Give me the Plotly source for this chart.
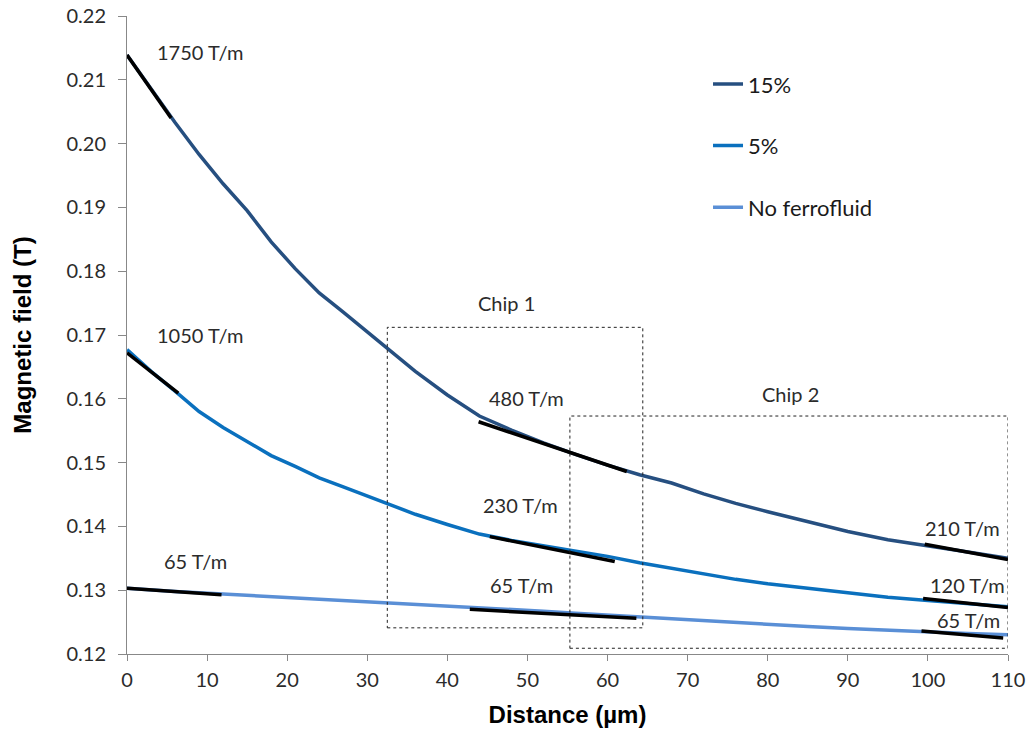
import plotly.graph_objects as go

# ---------------- data ----------------
distance_um = [0, 3, 6, 9, 12, 15, 18, 21, 24, 27, 30, 33, 36, 40, 44, 48, 52, 56,
               60, 64, 68, 72, 76, 80, 85, 90, 95, 100, 105, 110]

field_15pct = [0.2139, 0.2086, 0.2033, 0.1983, 0.1937, 0.1895, 0.1846, 0.1804, 0.1766,
               0.1736, 0.1705, 0.1673, 0.1643, 0.1606, 0.1573, 0.1551, 0.1531, 0.1513,
               0.1496, 0.1481, 0.1468, 0.1451, 0.1436, 0.1423, 0.1407, 0.1392, 0.1379,
               0.1370, 0.1360, 0.1350]

field_5pct = [0.1677, 0.1643, 0.1612, 0.1580, 0.1555, 0.1533, 0.1511, 0.1494, 0.1476,
              0.1462, 0.1448, 0.1433, 0.1419, 0.1403, 0.1388, 0.1378, 0.1370, 0.1362,
              0.1353, 0.1343, 0.1334, 0.1326, 0.1317, 0.1310, 0.1303, 0.1295, 0.1289,
              0.1284, 0.1279, 0.1274]

field_none = [0.1303, 0.1300, 0.1298, 0.1296, 0.1294, 0.1292, 0.1290, 0.1288, 0.1286,
              0.1285, 0.1283, 0.1281, 0.1279, 0.1276, 0.1273, 0.1270, 0.1267, 0.1264,
              0.1261, 0.1258, 0.1255, 0.1252, 0.1249, 0.1246, 0.1243, 0.1240, 0.1237,
              0.1235, 0.1232, 0.1230]

series_names = ["15%", "5%", "No ferrofluid"]

# tangent (gradient) segments: start/end distance and field
tangent_x0 = [0.0, 43.9, 99.6, 0.0, 45.3, 99.4, 0.0, 42.8, 99.2]
tangent_x1 = [5.5, 62.4, 110.0, 6.4, 60.9, 110.0, 11.8, 63.6, 109.4]
tangent_y0 = [0.2139, 0.1564, 0.1372, 0.1672, 0.1384, 0.1287, 0.1303, 0.1270, 0.1236]
tangent_y1 = [0.2040, 0.1486, 0.1348, 0.1609, 0.1345, 0.1273, 0.1293, 0.1256, 0.1225]

gradient_labels = ["1750 T/m", "480 T/m", "210 T/m", "1050 T/m", "230 T/m", "120 T/m",
                   "65 T/m", "65 T/m", "65 T/m"]

# chip regions (distance range, field range)
chip_names = ["Chip 1", "Chip 2"]
chip_x0 = [32.5, 55.3]
chip_x1 = [64.4, 110.0]
chip_y0 = [0.1241, 0.1209]
chip_y1 = [0.1712, 0.1573]

x_ticks = list(range(0, 111, 10))
y_ticks = [0.12, 0.13, 0.14, 0.15, 0.16, 0.17, 0.18, 0.19, 0.20, 0.21, 0.22]

# ---------------- styling ----------------
colors = ["#264F80", "#0A70BE", "#5A8FD6"]
label_font = dict(family="Lato, 'Open Sans', sans-serif", size=20, color="#2b2b2b")
title_font = dict(family="'Liberation Sans', Arial, sans-serif", size=24, color="black")
axis_color = "#888888"

fig = go.Figure()

for i, (name, ys) in enumerate(zip(series_names, [field_15pct, field_5pct, field_none])):
    fig.add_trace(go.Scatter(
        x=distance_um, y=ys, name=name, mode="lines",
        line=dict(color=colors[i], width=3.5),
        legendgroup=name,
    ))

for x0, x1, y0, y1 in zip(tangent_x0, tangent_x1, tangent_y0, tangent_y1):
    fig.add_trace(go.Scatter(
        x=[x0, x1], y=[y0, y1], mode="lines",
        line=dict(color="black", width=3.5),
        showlegend=False, hoverinfo="skip",
    ))

# chip boxes
for x0, x1, y0, y1 in zip(chip_x0, chip_x1, chip_y0, chip_y1):
    fig.add_shape(type="rect", xref="x", yref="y", x0=x0, x1=x1, y0=y0, y1=y1,
                  line=dict(color="#222222", width=1, dash="3px,3px"))

# gradient label placement
label_pos = [
    (9.1, 0.2144, "center"),
    (49.9, 0.1601, "center"),
    (109.25, 0.1397, "right"),
    (9.1, 0.1700, "center"),
    (49.1, 0.1433, "center"),
    (109.85, 0.1308, "right"),
    (8.5, 0.1345, "center"),
    (49.2, 0.1308, "center"),
    (109.3, 0.1253, "right"),
]
for text, (lx, ly, al) in zip(gradient_labels, label_pos):
    fig.add_annotation(x=lx, y=ly, xref="x", yref="y", text=text, showarrow=False,
                       xanchor=al, yanchor="middle", font=label_font)

chip_label_pos = [(47.4, 0.1750), (82.9, 0.1607)]
for name, (lx, ly) in zip(chip_names, chip_label_pos):
    fig.add_annotation(x=lx, y=ly, xref="x", yref="y", text=name, showarrow=False,
                       xanchor="center", yanchor="middle", font=label_font)

fig.update_layout(
    width=1029, height=749,
    margin=dict(l=127, r=21, t=16, b=95),
    paper_bgcolor="white", plot_bgcolor="white",
    showlegend=True,
    legend=dict(x=0.6595, y=0.926, xanchor="left", yanchor="top",
                font=dict(family="Lato, 'Open Sans', sans-serif", size=22, color="#1a1a1a"),
                tracegroupgap=30, bgcolor="rgba(0,0,0,0)", itemwidth=30),
    xaxis=dict(
        range=[0, 110], tickvals=x_ticks, ticktext=[str(v) for v in x_ticks],
        showgrid=False, zeroline=False, showline=True, linecolor=axis_color, linewidth=1,
        ticks="outside", ticklen=6, tickcolor=axis_color, automargin=False,
        tickfont=label_font, ticklabelstandoff=2,
        title=dict(text="<b>Distance (µm)</b>", standoff=16, font=title_font),
    ),
    yaxis=dict(
        range=[0.12, 0.22], tickvals=y_ticks, ticktext=[f"{v:.2f}" for v in y_ticks],
        showgrid=False, zeroline=False, showline=True, linecolor=axis_color, linewidth=1,
        ticks="outside", ticklen=8, tickcolor=axis_color, automargin=False,
        tickfont=label_font, ticklabelstandoff=8,
        title=dict(text="<b>Magnetic field (T)</b>", standoff=28, font=title_font),
    ),
)

fig.write_html("out.html")
